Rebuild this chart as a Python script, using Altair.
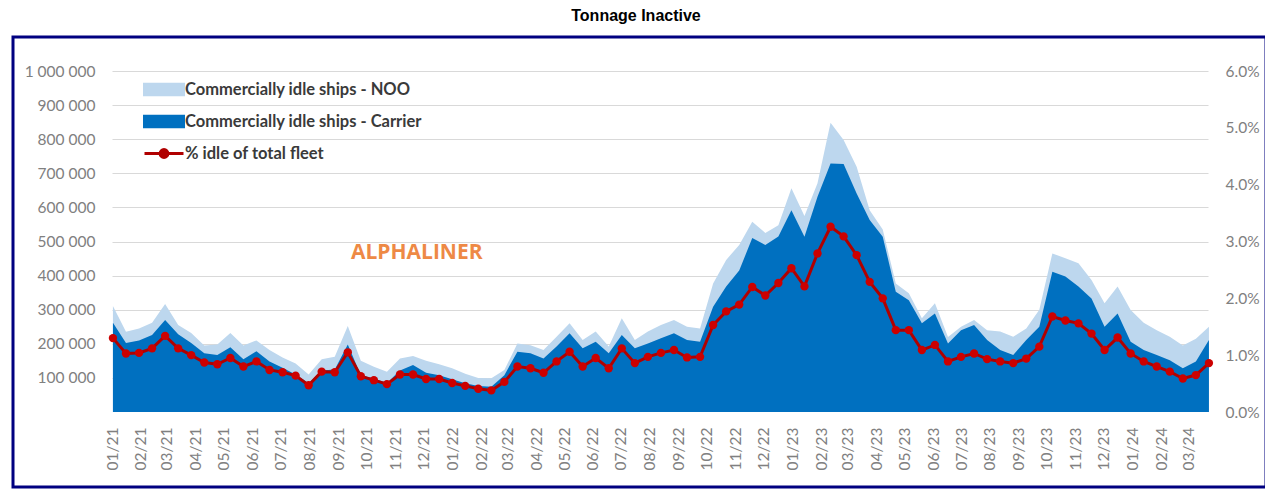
import altair as alt
import pandas as pd

# ---- data ----
# bi-weekly observations, first on 2 Jan 2021
dates = pd.date_range("2021-01-02", periods=85, freq="14D").strftime("%Y-%m-%d").tolist()

# total commercially idle (NOO + carrier), thousand TEU
total_k = [311, 235, 245, 262, 317, 255, 232, 195, 198, 232,
           195, 210, 182, 160, 142, 110, 155, 162, 252, 150,
           133, 118, 157, 164, 150, 140, 128, 112, 100, 99,
           123, 201, 196, 182, 221, 260, 211, 236, 192, 275,
           211, 236, 255, 270, 250, 245, 377, 446, 490, 558,
           525, 548, 656, 575, 671, 848, 798, 719, 592, 535,
           377, 348, 275, 319, 220, 250, 270, 240, 236, 221,
           245, 300, 465, 451, 436, 387, 319, 368, 299, 262,
           240, 221, 195, 215, 250]

# commercially idle - carrier, thousand TEU
carrier_k = [262, 202, 210, 226, 270, 228, 202, 172, 167, 190,
             155, 178, 148, 130, 110, 84, 122, 125, 198, 108,
             98, 85, 122, 138, 115, 108, 96, 84, 76, 74,
             108, 177, 172, 157, 192, 231, 187, 206, 172, 226,
             187, 201, 216, 231, 211, 206, 309, 368, 415, 510,
             490, 515, 592, 514, 631, 729, 727, 641, 563, 514,
             353, 328, 260, 289, 201, 240, 255, 211, 182, 167,
             211, 250, 411, 397, 368, 333, 250, 289, 206, 182,
             167, 152, 128, 148, 211]

# % idle of total fleet
pct_idle = [1.30, 1.03, 1.04, 1.12, 1.34, 1.12, 1.00, 0.87, 0.84, 0.95,
            0.80, 0.89, 0.74, 0.70, 0.64, 0.47, 0.71, 0.70, 1.05, 0.63,
            0.56, 0.49, 0.66, 0.66, 0.58, 0.58, 0.51, 0.46, 0.41, 0.38,
            0.53, 0.80, 0.77, 0.69, 0.89, 1.06, 0.80, 0.95, 0.77, 1.12,
            0.86, 0.97, 1.04, 1.09, 0.96, 0.97, 1.53, 1.77, 1.89, 2.20,
            2.05, 2.27, 2.53, 2.21, 2.79, 3.26, 3.09, 2.76, 2.29, 2.00,
            1.44, 1.44, 1.09, 1.18, 0.89, 0.97, 1.03, 0.93, 0.89, 0.86,
            0.94, 1.15, 1.68, 1.61, 1.56, 1.38, 1.09, 1.31, 1.03, 0.89,
            0.80, 0.71, 0.59, 0.65, 0.86]

left_ticks = [100000, 200000, 300000, 400000, 500000, 600000, 700000, 800000, 900000, 1000000]
right_ticks = [0.0, 0.01, 0.02, 0.03, 0.04, 0.05, 0.06]

S_NOO = "Commercially idle ships - NOO"
S_CAR = "Commercially idle ships - Carrier"
S_PCT = "% idle of total fleet"
series_names = [S_NOO, S_CAR, S_PCT]
series_colors = ["#BDD7EE", "#0070C0", "#B00000"]

df = pd.DataFrame({
    "date": dates,
    "total": [v * 1000 for v in total_k],
    "carrier": [v * 1000 for v in carrier_k],
    "pct": [p / 100 for p in pct_idle],
})

watermark = pd.DataFrame({"date": ["2021-11-24"], "v": [466000], "t": ["ALPHALINER"]})
frame_df = pd.DataFrame({"a": [0]})

W, H = 1096, 341
FONT = "Lato"
TICK_FS = 15.5

RECT = "M-1.5,-0.4H1.5V0.4H-1.5Z"
LINE_DOT = "M-1.5,0H1.5M0.3,0A0.3,0.3,0,1,1,-0.3,0A0.3,0.3,0,1,1,0.3,0Z"
is_pct = f"datum.value === '{S_PCT}'"

color_scale = alt.Scale(domain=series_names, range=series_colors)
legend = alt.Legend(
    title=None, orient="none", legendX=37.5, legendY=4, padding=0,
    symbolSize=676, labelOffset=6.5, rowPadding=6,
    labelFont=FONT, labelFontSize=16.5, labelFontWeight="bold", labelColor="#3A3A3A", labelLimit=500,
    symbolOpacity=1, symbolStrokeWidth=3,
    symbolType={"expr": f"{is_pct} ? '{LINE_DOT}' : '{RECT}'"},
    symbolFillColor={"expr": f"{is_pct} ? '#CC0000' : scale('color', datum.value)"},
    symbolStrokeColor={"expr": f"{is_pct} ? '#A00000' : 'transparent'"},
)

x_scale = alt.Scale(type="utc", domain=[alt.DateTime(year=2021, month=1, date=1, utc=True),
                                        alt.DateTime(year=2024, month=3, date=22, utc=True)])
x_axis = alt.Axis(title=None, format="%m/%y", labelAngle=-90, grid=False, domain=False, ticks=False,
                  tickCount=alt.TimeIntervalStep(interval="month", step=1), labelOverlap=False,
                  labelPadding=15, labelFont=FONT, labelFontSize=TICK_FS, labelColor="#808080")
y_scale = alt.Scale(domain=[0, 1000000], nice=False)
y_axis = alt.Axis(title=None, values=left_ticks, domain=False, ticks=False, grid=True,
                  gridColor="#D9D9D9", labelPadding=17, labelFont=FONT, labelFontSize=TICK_FS,
                  labelColor="#808080", labelOverlap=False, labelBound=False, labelFlush=False,
                  labelExpr="replace(format(datum.value, ','), /,/g, ' ')")

base = alt.Chart(df)

area_noo = base.transform_calculate(series=f"'{S_NOO}'").mark_area(opacity=1).encode(
    x=alt.X("date:T", scale=x_scale, axis=x_axis),
    y=alt.Y("total:Q", scale=y_scale, axis=y_axis),
    color=alt.Color("series:N", scale=color_scale, legend=legend),
)
area_car = base.transform_calculate(series=f"'{S_CAR}'").mark_area(opacity=1).encode(
    x=alt.X("date:T", axis=x_axis),
    y=alt.Y("carrier:Q", axis=y_axis),
    color=alt.Color("series:N", scale=color_scale, legend=legend),
)
text = alt.Chart(watermark).mark_text(font="Open Sans", fontSize=21, fontWeight="bold",
                                      color="#ED7D31", opacity=0.9).encode(
    x=alt.X("date:T", axis=x_axis), y=alt.Y("v:Q", axis=y_axis), text="t:N")

left = alt.layer(area_noo, area_car, text)

pct_scale = alt.Scale(domain=[0, 0.06], nice=False)
pct_axis = alt.Axis(title=None, orient="right", values=right_ticks, format=".1%", grid=False,
                    domain=False, ticks=False, labelPadding=17, labelFont=FONT, labelFontSize=TICK_FS,
                    labelColor="#808080", labelOverlap=False)
line = base.transform_calculate(series=f"'{S_PCT}'").mark_line(strokeWidth=3).encode(
    x=alt.X("date:T", axis=x_axis),
    y=alt.Y("pct:Q", scale=pct_scale, axis=pct_axis),
    color=alt.Color("series:N", scale=color_scale, legend=legend),
)
pts = base.mark_point(filled=True, size=70, opacity=1, color="#CC0000").encode(
    x=alt.X("date:T", axis=x_axis), y=alt.Y("pct:Q", axis=pct_axis))
right = alt.layer(line, pts)

frame = alt.Chart(frame_df).mark_rect(filled=False, stroke="#000080", strokeWidth=3).encode(
    x=alt.value(-99), x2=alt.value(1154), y=alt.value(-34), y2=alt.value(416))

chart = alt.layer(left, right, frame).resolve_scale(y="independent").properties(
    width=W, height=H,
    title=alt.TitleParams("Tonnage Inactive", font="Liberation Sans", fontSize=16, fontWeight="bold",
                          color="black", anchor="middle", offset=12, dx=-24),
    autosize=alt.AutoSizeParams(type="none"),
    padding={"left": 104, "top": 63, "right": 57, "bottom": 77},
    background="white",
).configure_view(strokeWidth=0).configure_axis(labelOverlap=False)

chart.save("out.html", embed_options={"renderer": "svg", "actions": False})
